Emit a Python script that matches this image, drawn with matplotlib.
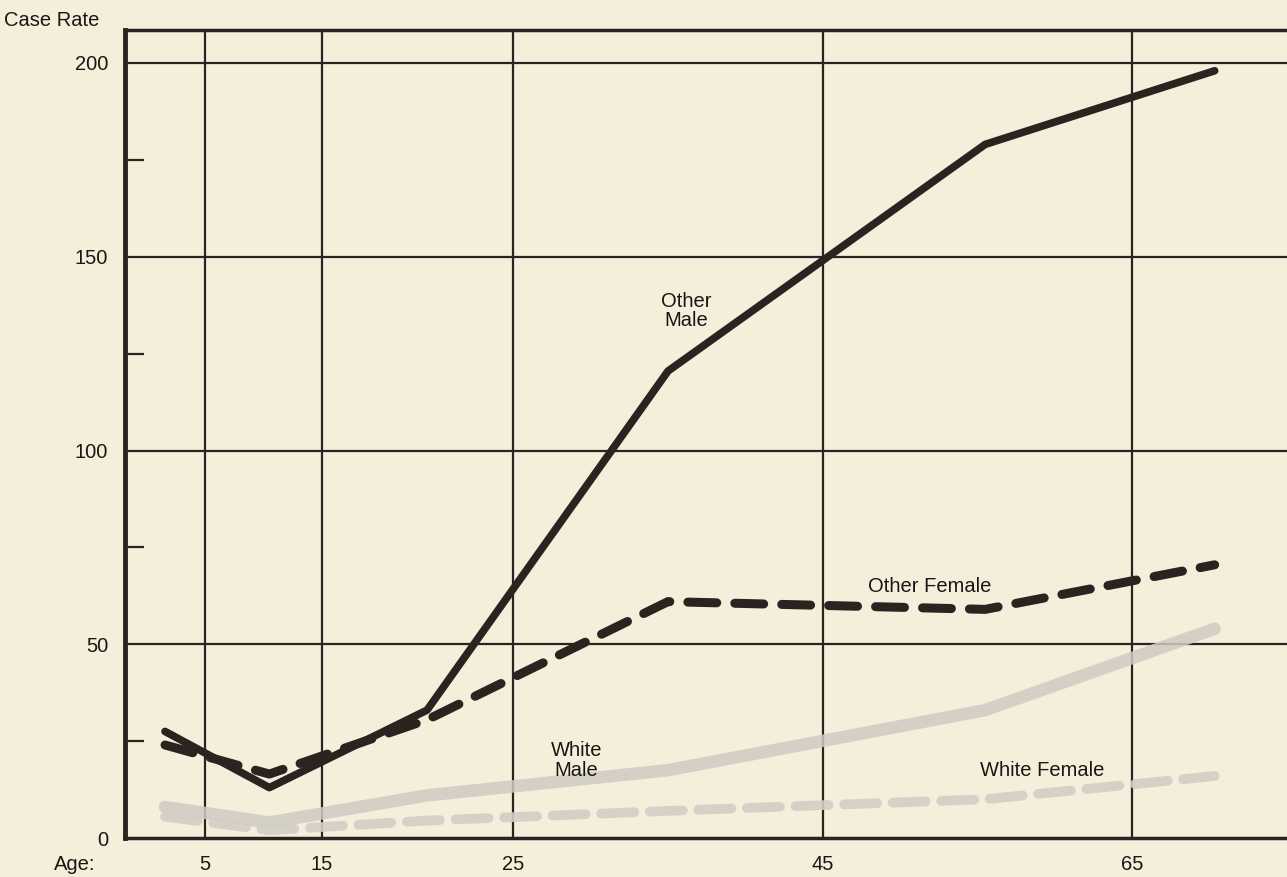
import numpy as np
import matplotlib
matplotlib.use("Agg")
import matplotlib.pyplot as plt

# ---- data ----
age_mid = [2.5, 10.5, 20.5, 35, 55.5, 73]
other_male = [27.5, 13, 33, 120.5, 179, 198]
other_female = [24, 16.5, 30.5, 61, 59, 70.5]
white_male = [8, 4, 11, 17.5, 33, 54]
white_female = [5.5, 2, 4.5, 7, 10, 16]
age_ticks = [5, 15, 25, 45, 65]
rate_ticks = [0, 50, 100, 150, 200]
rate_minor = [25, 75, 125, 175]

# piecewise age axis (age-group boundaries are drawn at unequal widths)
bound_age = [0, 5, 15, 25, 45, 65, 80]
bound_pos = [0, 80, 197, 388, 698, 1007, 1162]

def fwd(a):
    return np.interp(a, bound_age, bound_pos)

def inv(p):
    return np.interp(p, bound_pos, bound_age)

plt.rcParams['font.family'] = ['Liberation Sans', 'DejaVu Sans']
BG = '#f5eedb'
INK = '#2a2320'
TXT = '#1a1614'
FS = 14.5

fig = plt.figure(figsize=(12.87, 8.77), dpi=100, facecolor=BG)
ax = fig.add_axes([125/1287, 1-838/877, 1-125/1287, (838-30)/877])
ax.set_facecolor(BG)
ax.set_xscale('function', functions=(fwd, inv))
ax.set_xlim(0, 80)
ax.set_ylim(0, (838-30)/3.875)

# grid
for a in age_ticks:
    ax.axvline(a, color=INK, lw=1.6, zorder=1)
for r in rate_ticks[1:]:
    ax.axhline(r, color=INK, lw=1.6, zorder=1)

# white series (faded grey)
ax.plot(age_mid, white_male, color='#cfcbc2', lw=9, alpha=0.85,
        solid_capstyle='round', solid_joinstyle='round', zorder=2)
ax.plot(age_mid, white_female, color='#d2cec5', lw=7, alpha=0.9,
        dashes=(3.4, 1.6), dash_capstyle='round', zorder=2)

# other series
ax.plot(age_mid, other_male, color=INK, lw=5.5,
        solid_capstyle='round', solid_joinstyle='round', zorder=3)
ax.plot(age_mid, other_female, color=INK, lw=6.5,
        dashes=(3.2, 2.0), dash_capstyle='round', zorder=3)

# labels
lab = dict(ha='center', va='center', fontsize=FS, color=TXT, linespacing=1.0)
ax.text(36.2, 136, 'Other\nMale', **lab)
ax.text(51.9, 64.8, 'Other Female', **lab)
ax.text(29.1, 20, 'White\nMale', **lab)
ax.text(59.2, 17.5, 'White Female', **lab)

# spines
ax.spines['right'].set_visible(False)
ax.spines['left'].set_linewidth(3.5)
ax.spines['bottom'].set_linewidth(2.5)
ax.spines['top'].set_linewidth(2.5)
for s in ['left', 'bottom', 'top']:
    ax.spines[s].set_color(INK)

ax.set_yticks(rate_ticks)
ax.set_yticklabels([str(v) for v in rate_ticks])
ax.set_yticks(rate_minor, minor=True)
ax.tick_params(axis='y', which='major', length=0, pad=12, labelsize=FS, labelcolor=TXT)
ax.tick_params(axis='y', which='minor', direction='in', length=14, width=1.6, color=INK)
ax.set_xticks(age_ticks)
ax.set_xticklabels([str(v) for v in age_ticks])
ax.xaxis.set_minor_locator(matplotlib.ticker.NullLocator())
ax.tick_params(axis='x', which='major', length=0, pad=12, labelsize=FS, labelcolor=TXT)

fig.text(52/1287, 1-20/877, 'Case Rate', ha='center', va='center', fontsize=FS, color=TXT)
fig.text(75/1287, 1-865/877, 'Age:', ha='center', va='center', fontsize=FS, color=TXT)

fig.savefig('out.png', dpi=100, facecolor=BG)
